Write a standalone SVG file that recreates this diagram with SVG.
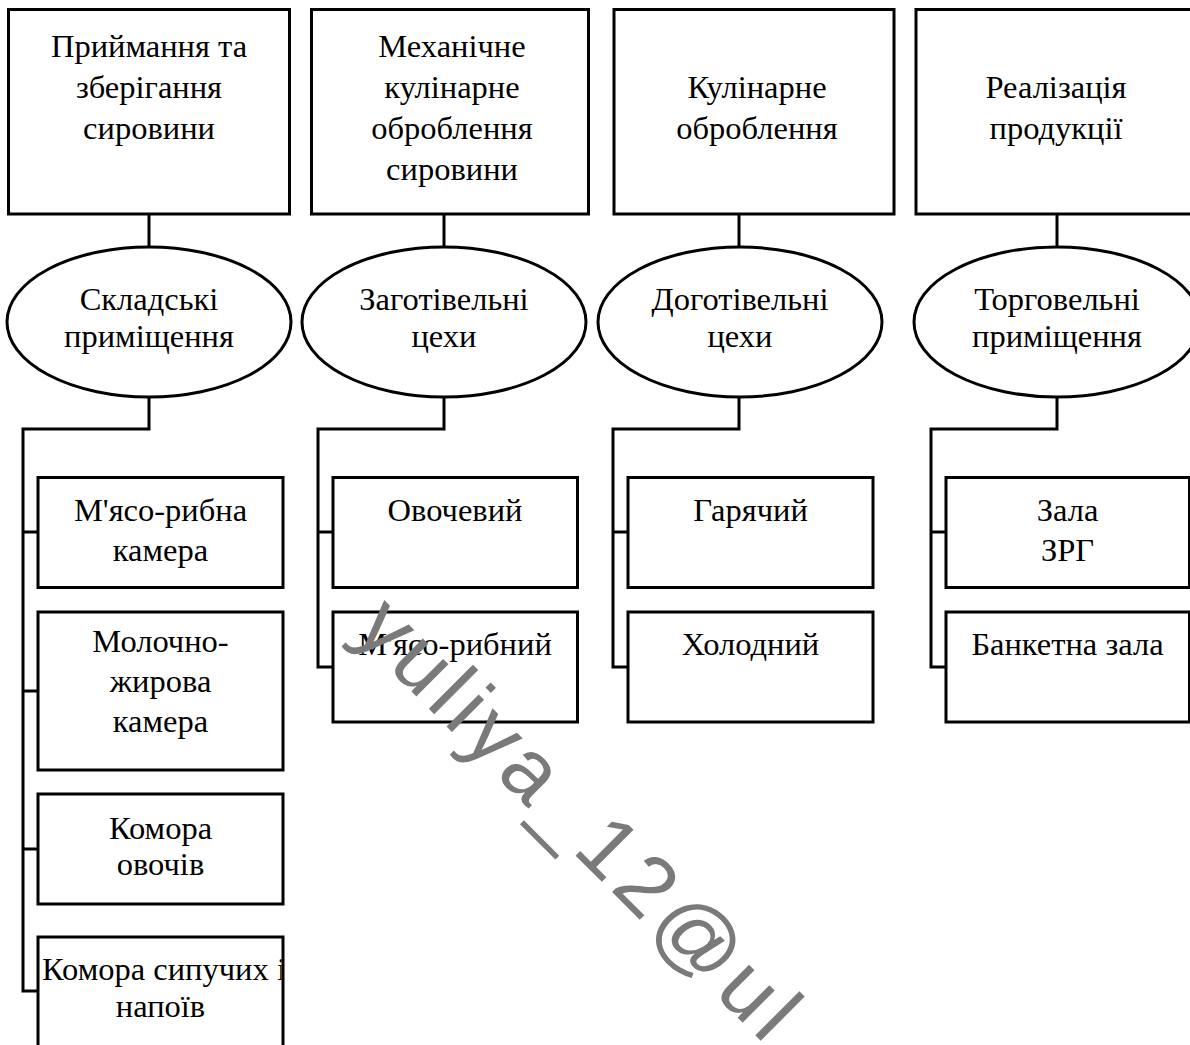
<svg xmlns="http://www.w3.org/2000/svg" width="1190" height="1045" viewBox="0 0 1190 1045">
<style>
.b{fill:#fff;stroke:#000;stroke-width:3}
.n{fill:none;stroke:#000;stroke-width:3}
.c{fill:none;stroke:#000;stroke-width:3;stroke-linejoin:miter}
text{font-family:"Liberation Serif","Times New Roman",serif;font-size:32.5px;fill:#000;text-anchor:middle}
.wm{font-family:"Liberation Sans",Arial,sans-serif;font-size:86px;fill:#7a7a7a;text-anchor:start;letter-spacing:6px}
</style>
<defs>
<clipPath id="clipK"><rect x="39.5" y="938" width="242" height="110"/></clipPath>
</defs>
<rect width="1190" height="1045" fill="#fff"/>
<g id="connectors">
<line class="n" x1="149" y1="214" x2="149" y2="247"/>
<line class="n" x1="444" y1="214" x2="444" y2="247"/>
<line class="n" x1="739" y1="214" x2="739" y2="247"/>
<line class="n" x1="1057" y1="214" x2="1057" y2="247"/>
<polyline class="c" points="149,397 149,429 23,429 23,991 38,991"/>
<line class="n" x1="23" y1="532" x2="38" y2="532"/>
<line class="n" x1="23" y1="691" x2="38" y2="691"/>
<line class="n" x1="23" y1="849" x2="38" y2="849"/>
<polyline class="c" points="444,397 444,429 318,429 318,667 333,667"/>
<line class="n" x1="318" y1="532" x2="333" y2="532"/>
<polyline class="c" points="739,397 739,429 613,429 613,667 628,667"/>
<line class="n" x1="613" y1="532" x2="628" y2="532"/>
<polyline class="c" points="1057,397 1057,429 931,429 931,667 946,667"/>
<line class="n" x1="931" y1="532" x2="946" y2="532"/>
</g>
<g id="box1"><rect class="b" x="8.5" y="9.5" width="281" height="204.5"/>
<text x="149" y="57">Приймання та</text><text x="149" y="98">зберігання</text><text x="149" y="139">сировини</text></g>
<g id="box2"><rect class="b" x="311.5" y="9.5" width="277" height="204.5"/>
<text x="452" y="57">Механічне</text><text x="452" y="98">кулінарне</text><text x="452" y="139">оброблення</text><text x="452" y="180">сировини</text></g>
<g id="box3"><rect class="b" x="614" y="9.5" width="280" height="204.5"/>
<text x="757" y="98">Кулінарне</text><text x="757" y="139">оброблення</text></g>
<g id="box4"><rect class="b" x="916" y="9.5" width="280" height="204.5"/>
<text x="1056" y="98">Реалізація</text><text x="1056" y="139">продукції</text></g>
<g id="ell1"><ellipse class="b" cx="149" cy="322" rx="142" ry="75"/>
<text x="149" y="310">Складські</text><text x="149" y="347">приміщення</text></g>
<g id="ell2"><ellipse class="b" cx="444" cy="322" rx="142" ry="75"/>
<text x="444" y="310">Заготівельні</text><text x="444" y="347">цехи</text></g>
<g id="ell3"><ellipse class="b" cx="740" cy="322" rx="142" ry="75"/>
<text x="740" y="310">Доготівельні</text><text x="740" y="347">цехи</text></g>
<g id="ell4"><ellipse class="b" cx="1057" cy="322" rx="143" ry="75"/>
<text x="1057" y="310">Торговельні</text><text x="1057" y="347">приміщення</text></g>
<g id="c1a"><rect class="b" x="38" y="477.5" width="245" height="110"/>
<text x="160.5" y="521">М'ясо-рибна</text><text x="160.5" y="561">камера</text></g>
<g id="c1b"><rect class="b" x="38" y="612" width="245" height="158"/>
<text x="160.5" y="652">Молочно-</text><text x="160.5" y="692">жирова</text><text x="160.5" y="732">камера</text></g>
<g id="c1c"><rect class="b" x="38" y="794" width="245" height="110"/>
<text x="160.5" y="839">Комора</text><text x="160.5" y="875">овочів</text></g>
<g id="c1d"><rect class="b" x="38" y="937" width="245" height="120"/>
<text clip-path="url(#clipK)" x="42" y="980" style="text-anchor:start">Комора сипучих і</text><text x="160.5" y="1017">напоїв</text></g>
<g id="c2a"><rect class="b" x="333" y="477.5" width="244.5" height="110"/>
<text x="455" y="521">Овочевий</text></g>
<g id="c2b"><rect class="b" x="333" y="612" width="244.5" height="110"/>
<text x="455" y="655">М'ясо-рибний</text></g>
<g id="c3a"><rect class="b" x="628" y="477.5" width="245" height="110"/>
<text x="750.5" y="521">Гарячий</text></g>
<g id="c3b"><rect class="b" x="628" y="612" width="245" height="110"/>
<text x="750.5" y="655">Холодний</text></g>
<g id="c4a"><rect class="b" x="946" y="477.5" width="243.5" height="110"/>
<text x="1067.5" y="521">Зала</text><text x="1067.5" y="561">ЗРГ</text></g>
<g id="c4b"><rect class="b" x="946" y="612" width="243.5" height="110"/>
<text x="1067.5" y="655">Банкетна зала</text></g>
<text class="wm" transform="translate(352,632) rotate(45)">yuliya_12@ul</text>
</svg>
